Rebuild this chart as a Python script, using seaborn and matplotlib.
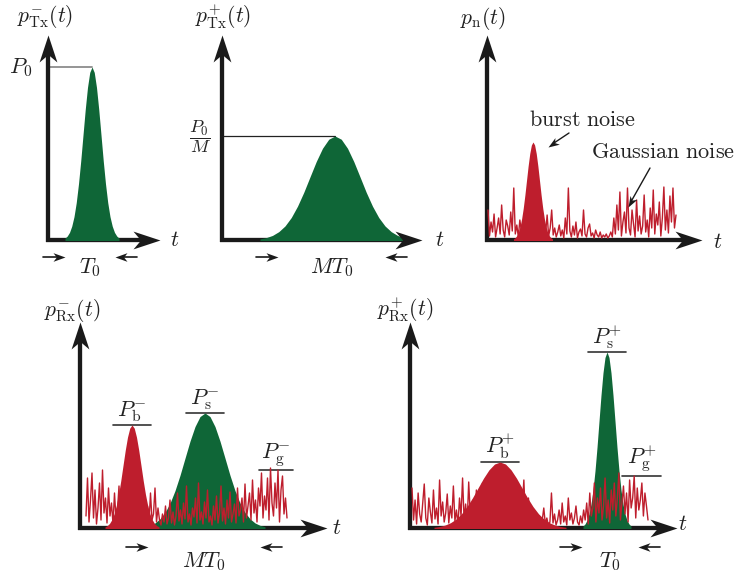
import numpy as np
import pandas as pd
import seaborn as sns
import matplotlib.pyplot as plt
from matplotlib.path import Path

sns.set_theme(style='white')
plt.rcParams['font.family'] = ['DejaVu Serif']
plt.rcParams['mathtext.fontset'] = 'cm'

GREEN = '#0f6637'
RED = '#be1e2d'
INK = '#1a1a1a'

# normalised pulse profile (peak = 1), read across +-3 widths
pulse_shape = [0.011, 0.023, 0.044, 0.080, 0.135, 0.216, 0.325, 0.458, 0.607, 0.755, 0.882, 0.969, 1.0,
               0.969, 0.882, 0.755, 0.607, 0.458, 0.325, 0.216, 0.135, 0.080, 0.044, 0.023, 0.011]

# wanted signal pulses: Tx-, Tx+, Rx-, Rx+
signal_center = [44, 113, 125, 197]
signal_width = [9, 25, 20, 8]
signal_peak = [173, 104, 115, 176]

# burst noise pulses: n, Rx-, Rx+
burst_center = [46, 52, 90]
burst_width = [6.5, 9, 22]
burst_peak = [98, 103, 66]

# gaussian noise traces: n, Rx-, Rx+
noise_n = [30, 4, 18, 8, 26, 3, 12, 22, 6, 35, 10, 3, 20, 14, 5, 28, 9, 52,
           6, 15, 3, 20, 9, 4, 24, 11, 5, 17, 3, 28, 8, 14, 2, 22, 6, 10, 3, 18, 7, 25, 4, 12, 30,
           5, 12, 3, 8, 15, 4, 10, 2, 22, 6, 52, 9, 3, 14, 5, 18, 2, 8, 11, 4, 30, 6, 3, 12, 16, 4,
           7, 2, 10, 5, 3, 8, 2, 5, 3, 6, 2, 4,
           8, 3, 22, 6, 35, 10, 48, 4, 18, 28, 7, 52, 12, 5, 30, 16, 3, 40, 9, 24, 6, 14, 45, 8, 20,
           3, 32, 12, 50, 6, 26, 15, 38, 4, 22, 53, 10, 30, 7, 44, 18, 52, 12, 25]
noise_rx_minus = [12, 50, 6, 28, 55, 10, 38, 4, 20, 45, 8, 58, 15, 30, 5, 40,
                  12, 25, 4, 35, 9, 18, 42, 6, 14, 28, 3, 22, 10, 36, 5, 16, 8, 26, 4, 12, 30, 6, 18,
                  3, 10, 22, 5, 35, 8, 14, 40, 6, 20,
                  8, 3, 14, 6, 22, 4, 10, 28, 5, 16, 3, 12, 35, 7, 18, 4, 25, 9, 42, 6, 14, 3, 20, 11,
                  30, 5, 45, 8, 16, 4, 26, 10, 38, 6, 12, 3, 22, 8, 32, 5, 15, 42, 7, 20, 4, 28, 10, 36,
                  6, 14, 24, 5, 40, 12, 18, 30, 6, 44, 10, 22,
                  35, 8, 48, 15, 28, 6, 40, 22, 55, 10, 32, 18, 50, 8, 60, 25, 12, 45, 20, 58, 6, 38,
                  52, 14, 30, 10]
noise_rx_plus = [40, 8, 28, 4, 35, 14, 6, 25, 44, 10, 3, 30, 16, 5, 38, 9, 20, 4, 48, 12, 26, 6, 15,
                 34, 5, 22, 10, 42, 7, 18, 3, 30, 12, 50, 8, 24, 5, 46,
                 14, 6, 28, 10, 38, 4, 20, 12, 45, 8, 25, 5, 30, 15, 6, 22, 40, 9, 18, 4, 32, 11, 26,
                 6, 50, 14, 8, 28, 5, 20, 36, 10, 16, 4, 24, 48, 8, 14, 30, 5, 20, 10, 4, 15, 6,
                 12, 3, 8, 20, 4, 10, 2, 6, 35, 5, 14, 3, 8, 18, 4, 25, 6, 12, 3, 30, 8, 15, 4, 10,
                 22, 6, 3, 12, 5, 18,
                 8, 25, 4, 35, 12, 20, 45, 6, 30, 15, 40, 8, 22, 50, 10, 28, 5, 38, 18, 45, 12, 30,
                 55, 8, 25, 42, 14, 35, 6, 48, 20, 30, 52, 10, 40, 18, 28, 45, 12, 35, 22, 8]
noise_span = [(1, 189), (6, 207), (2, 238)]
gauss_level = [58, 52]  # P_g for Rx-, Rx+

W, H = 735, 576
fig = plt.figure(figsize=(W / 100, H / 100), dpi=100)


def make_ax(ox, oy, w, h):
    # axes in pixel units, origin at the drawn axis corner
    ax = fig.add_axes([ox / W, (H - oy) / H, w / W, h / H])
    ax.set_xlim(0, w)
    ax.set_ylim(0, h)
    ax.axis('off')
    return ax


def head(ax, x, y, ang, length, half=0.36, color=INK, z=6):
    base = np.array([[0, 0], [-1, half], [-0.72, 0], [-1, -half], [0, 0]])
    a = np.deg2rad(ang)
    rot = np.array([[np.cos(a), -np.sin(a)], [np.sin(a), np.cos(a)]])
    v = base @ rot.T
    ms = 2 * np.abs(v).max() * length * 0.72
    ax.plot([x], [y], marker=Path(v, closed=True), ms=ms, color=color, mew=0, ls='none',
            clip_on=False, zorder=z)


def draw_axes(ax, w, h):
    ax.plot([-2, w - 14], [0, 0], color=INK, lw=3.1, solid_capstyle='butt', clip_on=False, zorder=2)
    ax.plot([0, 0], [-2, h - 14], color=INK, lw=3.1, solid_capstyle='butt', clip_on=False, zorder=2)
    head(ax, w, 0, 0, 27, 0.33)
    head(ax, 0, h, 90, 27, 0.33)


def arrow(ax, x0, y0, x1, y1, hl=10, lw=1.0):
    ang = np.degrees(np.arctan2(y1 - y0, x1 - x0))
    ax.plot([x0, x1 - 0.6 * hl * np.cos(np.deg2rad(ang))], [y0, y1 - 0.6 * hl * np.sin(np.deg2rad(ang))],
            color=INK, lw=lw, clip_on=False, zorder=6)
    head(ax, x1, y1, ang, hl)


def pulse(ax, c, s, p, color):
    u = np.linspace(-3, 3, len(pulse_shape))
    ax.fill_between(c + u * s, -1.5, p * np.array(pulse_shape), color=color, lw=0, zorder=3)


def noise(ax, vals, span):
    df = pd.DataFrame({'t': np.linspace(span[0], span[1], len(vals)), 'p': vals})
    sns.lineplot(data=df, x='t', y='p', ax=ax, color=RED, lw=1.0, estimator=None, sort=False, zorder=4)


def label(ax, x, y, s, size=16, **kw):
    ax.text(x, y, s, fontsize=size, color='#222222', ha=kw.pop('ha', 'center'), va=kw.pop('va', 'center'),
            clip_on=False, **kw)


def span_marks(ax, y, x_right, x_left, text, ty):
    arrow(ax, x_right - 22, y, x_right, y, 12, 1.2)
    arrow(ax, x_left + 22, y, x_left, y, 12, 1.2)
    label(ax, (x_right + x_left) / 2, ty, text)


def level(ax, x0, x1, y, text, color='#333333', lw=1.2):
    ax.plot([x0, x1], [y, y], color=color, lw=lw, clip_on=False, zorder=1)
    if text:
        label(ax, (x0 + x1) / 2, y + 1, text, va='bottom')


# panel 1: Tx-
ax = make_ax(48, 240, 112, 205)
draw_axes(ax, 112, 205)
pulse(ax, signal_center[0], signal_width[0], signal_peak[0], GREEN)
level(ax, 0, signal_center[0], signal_peak[0], None, color='#8c8c8c', lw=1.3)
label(ax, -27, signal_peak[0] - 1, r'$P_0$')
label(ax, -3, 223, r'$p_{\mathrm{Tx}}^{-}(t)$', size=15.5)
label(ax, 127, 0, r'$t$')
span_marks(ax, -17, 17, 67, r'$T_0$', -28)
ax.set_xlim(0, 112)
ax.set_ylim(0, 205)

# panel 2: Tx+
ax = make_ax(222, 240, 200, 205)
draw_axes(ax, 200, 205)
pulse(ax, signal_center[1], signal_width[1], signal_peak[1], GREEN)
level(ax, 0, signal_center[1], signal_peak[1], None, color='#222222', lw=0.9)
label(ax, -22, signal_peak[1] - 1, r'$\dfrac{P_0}{M}$', size=13)
label(ax, 1, 223, r'$p_{\mathrm{Tx}}^{+}(t)$', size=15.5)
label(ax, 218, 0, r'$t$')
span_marks(ax, -17, 56, 163, r'$MT_0$', -28)
ax.set_xlim(0, 200)
ax.set_ylim(0, 205)

# panel 3: noise
ax = make_ax(487, 240, 215, 205)
draw_axes(ax, 215, 205)
pulse(ax, burst_center[0], burst_width[0], burst_peak[0], RED)
noise(ax, noise_n, noise_span[0])
label(ax, -4, 222, r'$p_{\mathrm{n}}(t)$', size=15.5)
label(ax, 231, -2, r'$t$')
label(ax, 95, 120, r'$\mathrm{burst\ noise}$')
label(ax, 176, 88, r'$\mathrm{Gaussian\ noise}$')
arrow(ax, 82, 107, 61, 93, 11)
arrow(ax, 163, 72, 141, 33, 11)
ax.set_xlim(0, 215)
ax.set_ylim(0, 205)

# panel 4: Rx-
ax = make_ax(80, 528, 247, 206)
draw_axes(ax, 247, 206)
pulse(ax, signal_center[2], signal_width[2], signal_peak[2], GREEN)
pulse(ax, burst_center[1], burst_width[1], burst_peak[1], RED)
noise(ax, noise_rx_minus, noise_span[1])
level(ax, burst_center[1] - 19, burst_center[1] + 19, burst_peak[1], r'$P_{\mathrm{b}}^{-}$')
level(ax, signal_center[2] - 19, signal_center[2] + 19, signal_peak[2], r'$P_{\mathrm{s}}^{-}$')
level(ax, 179, 213, gauss_level[0], r'$P_{\mathrm{g}}^{-}$')
label(ax, -8, 218, r'$p_{\mathrm{Rx}}^{-}(t)$', size=15.5)
label(ax, 257, 0, r'$t$')
span_marks(ax, -19, 68, 180, r'$MT_0$', -34)
ax.set_xlim(0, 247)
ax.set_ylim(0, 206)

# panel 5: Rx+
ax = make_ax(410, 528, 267, 206)
draw_axes(ax, 267, 206)
pulse(ax, burst_center[2], burst_width[2], burst_peak[2], RED)
pulse(ax, signal_center[3], signal_width[3], signal_peak[3], GREEN)
noise(ax, noise_rx_plus, noise_span[2])
level(ax, burst_center[2] - 19, burst_center[2] + 19, burst_peak[2], r'$P_{\mathrm{b}}^{+}$')
level(ax, signal_center[3] - 19, signal_center[3] + 19, signal_peak[3], r'$P_{\mathrm{s}}^{+}$')
level(ax, 212, 251, gauss_level[1], r'$P_{\mathrm{g}}^{+}$')
label(ax, -5, 218, r'$p_{\mathrm{Rx}}^{+}(t)$', size=15.5)
label(ax, 273, 4, r'$t$')
span_marks(ax, -19, 172, 228, r'$T_0$', -34)
ax.set_xlim(0, 267)
ax.set_ylim(0, 206)

fig.savefig('out.png', dpi=100, facecolor='white')
